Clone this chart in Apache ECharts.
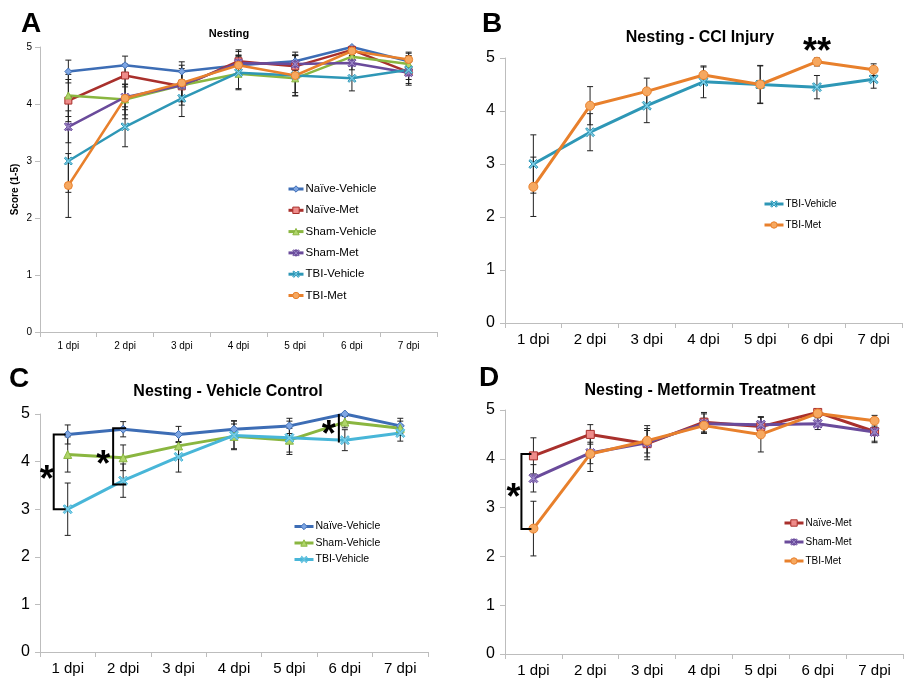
<!DOCTYPE html>
<html>
<head>
<meta charset="utf-8">
<script src="https://cdn.jsdelivr.net/npm/echarts@6/dist/echarts.min.js"></script>
<style>html,body{margin:0;padding:0;background:#fff}#c{width:910px;height:683px}</style>
</head>
<body>
<div id="c"></div>
<script>
// ---- data ----
const categories = ['1 dpi','2 dpi','3 dpi','4 dpi','5 dpi','6 dpi','7 dpi'];
const yTicks = [0,1,2,3,4,5];
const naiveVehicle    = [4.57, 4.68, 4.57, 4.68, 4.75, 5.00, 4.75];
const naiveVehicleErr = [0.20, 0.16, 0.17, 0.18, 0.16, 0.02, 0.16];
const naiveMet        = [4.06, 4.50, 4.31, 4.75, 4.66, 4.95, 4.56];
const naiveMetErr     = [0.37, 0.20, 0.27, 0.20, 0.20, 0.06, 0.20];
const shamVehicle     = [4.15, 4.08, 4.33, 4.53, 4.45, 4.83, 4.70];
const shamVehicleErr  = [0.37, 0.27, 0.25, 0.26, 0.25, 0.12, 0.15];
const shamMet         = [3.60, 4.12, 4.33, 4.72, 4.70, 4.72, 4.55];
const shamMetErr      = [0.28, 0.22, 0.35, 0.20, 0.15, 0.12, 0.22];
const tbiVehicle      = [3.00, 3.60, 4.10, 4.55, 4.50, 4.45, 4.60];
const tbiVehicleErr   = [0.55, 0.35, 0.32, 0.30, 0.35, 0.22, 0.17];
const tbiMet          = [2.57, 4.10, 4.37, 4.68, 4.50, 4.93, 4.78];
const tbiMetErr       = [0.56, 0.36, 0.25, 0.15, 0.36, 0.08, 0.11];

const panelTitles = ['Nesting', 'Nesting - CCI Injury', 'Nesting - Vehicle Control', 'Nesting - Metformin Treatment'];
const panelLetters = ['A','B','C','D'];
const panelSeries = [
  ['Naïve-Vehicle','Naïve-Met','Sham-Vehicle','Sham-Met','TBI-Vehicle','TBI-Met'],
  ['TBI-Vehicle','TBI-Met'],
  ['Naïve-Vehicle','Sham-Vehicle','TBI-Vehicle'],
  ['Naïve-Met','Sham-Met','TBI-Met']
];
// significance annotations: [category, top value, bottom value]
const bracketsC = [['1 dpi', 4.57, 3.00], ['2 dpi', 4.70, 3.52]];
const lineC6 = ['6 dpi', 5.00, 4.40];
const bracketD = ['1 dpi', 4.10, 2.56];
const starB = ['6 dpi', 5.25];

// ---- styles ----
const FONT = 'Liberation Sans';
const xMark = 'path://M0,1.5 L1.5,0 L5,3.5 L8.5,0 L10,1.5 L6.5,5 L10,8.5 L8.5,10 L5,6.5 L1.5,10 L0,8.5 L3.5,5 Z';
const starMark = 'path://M0,1.5 L1.5,0 L4.3,2.8 L4.3,0 L5.7,0 L5.7,2.8 L8.5,0 L10,1.5 L6.5,5 L10,8.5 L8.5,10 L5.7,7.2 L5.7,10 L4.3,10 L4.3,7.2 L1.5,10 L0,8.5 L3.5,5 Z';
const seriesDefs = {
  'Naïve-Vehicle': {data: naiveVehicle, err: naiveVehicleErr, color:'#3D6DB5', fill:'#7EA6E3', symbol:'diamond', size:8},
  'Naïve-Met':     {data: naiveMet, err: naiveMetErr, color:'#A9302C', fill:'#EE8C8A', symbol:'rect', size:8},
  'Sham-Vehicle':  {data: shamVehicle, err: shamVehicleErr, color:'#8AB640', fill:'#AFD56A', symbol:'triangle', size:8},
  'Sham-Met':      {data: shamMet, err: shamMetErr, color:'#6A4B9B', fill:'#9A86C6', symbol:starMark, size:9},
  'TBI-Vehicle':   {data: tbiVehicle, err: tbiVehicleErr, color:'#2E97B6', fill:'#7DCDE6', symbol:xMark, size:9},
  'TBI-Met':       {data: tbiMet, err: tbiMetErr, color:'#E8802C', fill:'#F6A860', symbol:'circle', size:9}
};
const tbiVehicleColorC = '#48B6D8';

const grids = [
  {left:40, top:47, width:397, height:285},
  {left:505, top:58, width:397, height:265},
  {left:40, top:414, width:388, height:238},
  {left:505, top:410, width:398, height:244}
];
const small = [true,false,false,false];

const xAxes = grids.map((g,i)=>({
  type:'category', gridIndex:i, data:categories, boundaryGap:true,
  axisLine:{lineStyle:{color:'#BDBDBD', width:1}},
  axisTick:{show:true, length:5, lineStyle:{color:'#BDBDBD'}},
  axisLabel:{color:'#000', fontFamily:FONT, fontSize: small[i]?10:15, margin:9}
}));
const yAxes = grids.map((g,i)=>({
  type:'value', gridIndex:i, min:0, max:5, interval:1,
  splitLine:{show:false},
  axisLine:{show:true, lineStyle:{color:'#BDBDBD', width:1}},
  axisTick:{show:true, length:5, lineStyle:{color:'#BDBDBD'}},
  axisLabel:{color:'#000', fontFamily:FONT, fontSize: small[i]?10:16, margin: small[i]?8:10},
  name: i===0 ? 'Score (1-5)' : '', nameLocation:'middle', nameGap:20,
  nameTextStyle:{fontFamily:FONT, fontWeight:'bold', fontSize:10, color:'#000'}
}));

const series = [];
panelSeries.forEach((names, gi)=>{
  names.forEach(name=>{
    const d = seriesDefs[name];
    const color = (gi===2 && name==='TBI-Vehicle') ? tbiVehicleColorC : d.color;
    series.push({
      type:'line', name:name, xAxisIndex:gi, yAxisIndex:gi, z:4,
      data: d.data, symbol: d.symbol, symbolSize: gi===0 ? d.size-1 : d.size,
      showAllSymbol:true,
      lineStyle:{color:color, width: gi===0 ? 2.5 : 3},
      itemStyle:{color:d.fill, borderColor:color, borderWidth:1},
      emphasis:{disabled:true}, animation:false
    });
    series.push({
      type:'custom', xAxisIndex:gi, yAxisIndex:gi, z:3, silent:true,
      encode:{x:0, y:[1,2]},
      data: d.data.map((v,k)=>[k, v - d.err[k], Math.min(v + d.err[k], 5.0)]),
      renderItem:function(params, api){
        const lo = api.coord([api.value(0), api.value(1)]);
        const hi = api.coord([api.value(0), api.value(2)]);
        const c = 3;
        const st = {stroke:'#222', lineWidth:1};
        return {type:'group', children:[
          {type:'line', shape:{x1:lo[0], y1:lo[1], x2:hi[0], y2:hi[1]}, style:st},
          {type:'line', shape:{x1:lo[0]-c, y1:lo[1], x2:lo[0]+c, y2:lo[1]}, style:st},
          {type:'line', shape:{x1:hi[0]-c, y1:hi[1], x2:hi[0]+c, y2:hi[1]}, style:st}
        ]};
      }
    });
  });
});

function legendData(names, gi){
  return names.map(n=>{
    const d = seriesDefs[n];
    const color = (gi===2 && n==='TBI-Vehicle') ? tbiVehicleColorC : d.color;
    return {name:n, itemStyle:{color:d.fill, borderColor:color, borderWidth:1}, lineStyle:{color:color, width:3}};
  });
}
const legends = [
  {left:282, top:178, itemGap:9.3, itemWidth:15, itemHeight:8, fontSize:11.5},
  {left:758, top:194, itemGap:11, itemWidth:19, itemHeight:8, fontSize:10},
  {left:288, top:516, itemGap:5.5, itemWidth:19, itemHeight:8, fontSize:10.5},
  {left:778, top:513, itemGap:9, itemWidth:19, itemHeight:8, fontSize:10}
].map((l,i)=>({
  left:l.left, top:l.top, orient:'vertical', itemGap:l.itemGap, itemWidth:l.itemWidth, itemHeight:l.itemHeight,
  selectedMode:false, data: legendData(panelSeries[i], i),
  textStyle:{fontFamily:FONT, fontSize:l.fontSize, color:'#000', padding:[0,0,0,-3]}
}));

const titles = [
  {text:panelTitles[0], left:224, top:23, fs:11},
  {text:panelTitles[1], left:695, top:25, fs:16},
  {text:panelTitles[2], left:223, top:379, fs:16},
  {text:panelTitles[3], left:695, top:378, fs:16}
].map(t=>({text:t.text, left:t.left, top:t.top, textAlign:'center',
  textStyle:{fontFamily:FONT, fontWeight:'bold', fontSize:t.fs, color:'#000'}}));
const letterPos = [[16,5],[477,5],[4,360],[474,359]];
letterPos.forEach((p,i)=>titles.push({text:panelLetters[i], left:p[0], top:p[1],
  textStyle:{fontFamily:FONT, fontWeight:'bold', fontSize:28, color:'#000'}}));

const chart = echarts.init(document.getElementById('c'), null, {renderer:'canvas'});
chart.setOption({
  animation:false,
  title: titles,
  legend: legends,
  grid: grids,
  xAxis: xAxes,
  yAxis: yAxes,
  series: series
});

// ---- significance annotations ----
const STAR = 36;
function px(gi, cat, v){ return chart.convertToPixel({xAxisIndex:gi, yAxisIndex:gi}, [cat, v]); }
const g = [];
const bst = {stroke:'#000', lineWidth:2, fill:null};
function star(x, y, txt){
  g.push({type:'text', x:x, y:y, z:10,
    style:{text:txt, fontFamily:FONT, fontWeight:'bold', fontSize:STAR, fill:'#000', textAlign:'center', textVerticalAlign:'middle'}});
}
function bracket(gi, b, off, tick, starDx, starDy){
  const t = px(gi, b[0], b[1]), bt = px(gi, b[0], b[2]);
  const x = t[0] + off;
  g.push({type:'polyline', shape:{points:[[x+tick, t[1]],[x, t[1]],[x, bt[1]],[x+tick, bt[1]]]}, style:bst, z:10});
  star(x+starDx, (t[1]+bt[1])/2+starDy, '*');
}
bracket(2, bracketsC[0], -14, 12, -7, 9);
bracket(2, bracketsC[1], -10, 13, -10, 10);
bracket(3, bracketD, -12, 10, -8, 8);
(function(){
  const t = px(2, lineC6[0], lineC6[1]), b = px(2, lineC6[0], lineC6[2]);
  const x = t[0] - 6;
  g.push({type:'line', shape:{x1:x, y1:t[1], x2:x, y2:b[1]}, style:{stroke:'#000', lineWidth:2}, z:10});
  star(x-10, (t[1]+b[1])/2+8, '*');
  const s = px(1, starB[0], starB[1]);
  star(s[0], s[1]+8, '**');
})();
chart.setOption({graphic: g});
</script>
</body>
</html>
